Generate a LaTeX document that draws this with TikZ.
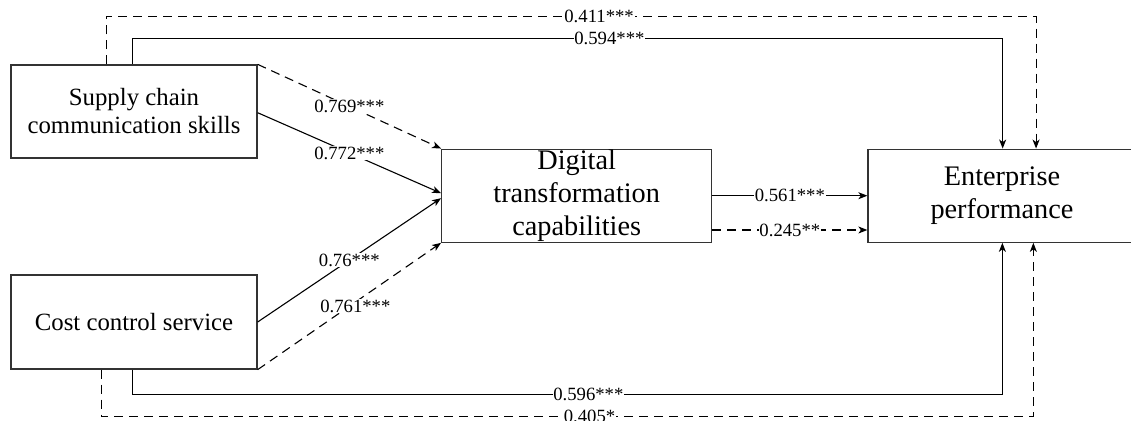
\documentclass[tikz,border=0pt]{standalone}
\usepackage{fontspec}
\setmainfont{Liberation Serif}
\usetikzlibrary{arrows.meta,calc}
\begin{document}
\begin{tikzpicture}[x=1pt,y=-1pt,
  box/.style={draw=black!80,line width=1.3pt,rectangle,align=center,inner sep=0pt},
  smallbox/.style={box,font=\fontsize{24.8}{28}\selectfont},
  bigbox/.style={box,font=\fontsize{28.3}{33}\selectfont},
  conn/.style={line width=1.1pt,-{Stealth[length=9pt,width=7pt,inset=2.5pt]}},
  dsh/.style={dash pattern=on 9pt off 6pt},
  lbl/.style={fill=white,inner sep=0.8pt,font=\fontsize{18.7}{20}\selectfont}]
\useasboundingbox (0,0) rectangle (1131,420);
\clip (0,0) rectangle (1131,420);
% nodes
\node[smallbox,minimum width=246pt,minimum height=93pt] (A) at (134,111.5) {Supply chain\\communication skills};
\node[smallbox,minimum width=246pt,minimum height=94pt] (B) at (134,322) {Cost control service};
\node[bigbox,minimum width=270pt,minimum height=93pt] (C) at (576.7,195.7) {Digital\\transformation\\capabilities};
\node[bigbox,minimum width=268pt,minimum height=93pt] (D) at (1002,195.7) {Enterprise\\performance};
% top paths
\draw[conn,dsh] ($(A.north west)+(96,0)$) -- ++(0,-48) -| node[pos=0.265,lbl]{0.411***} ($(D.north west)+(168.7,0)$);
\draw[conn] ($(A.north west)+(122.3,0)$) -- ++(0,-25.7) -| node[pos=0.274,lbl]{0.594***} ($(D.north west)+(135.3,0)$);
% bottom paths
\draw[conn] ($(B.south west)+(122.3,0)$) -- ++(0,25) -| node[pos=0.262,lbl]{0.596***} ($(D.south west)+(135,0)$);
\draw[conn,dsh] ($(B.south west)+(90.7,0)$) -- ++(0,47) -| node[pos=0.262,lbl]{0.405*} ($(D.south west)+(166,0)$);
% diagonals
\draw[conn,dsh] (A.north east) -- node[lbl]{0.769***} (C.north west);
\draw[conn] ($(A.east)+(0,1.2)$) -- node[lbl]{0.772***} ($(C.west)+(0,-2.5)$);
\draw[conn] (B.east) -- node[lbl]{0.76***} ($(C.west)+(0,2.5)$);
\draw[conn,dsh] (B.south east) -- node[lbl,xshift=6pt]{0.761***} (C.south west);
% right
\draw[conn] (C.east) -- node[lbl]{0.561***} (D.west);
\draw[conn,dsh] ($(C.east)+(0,34.3)$) -- node[lbl]{0.245**} ($(D.west)+(0,34.3)$);
\end{tikzpicture}
\end{document}
